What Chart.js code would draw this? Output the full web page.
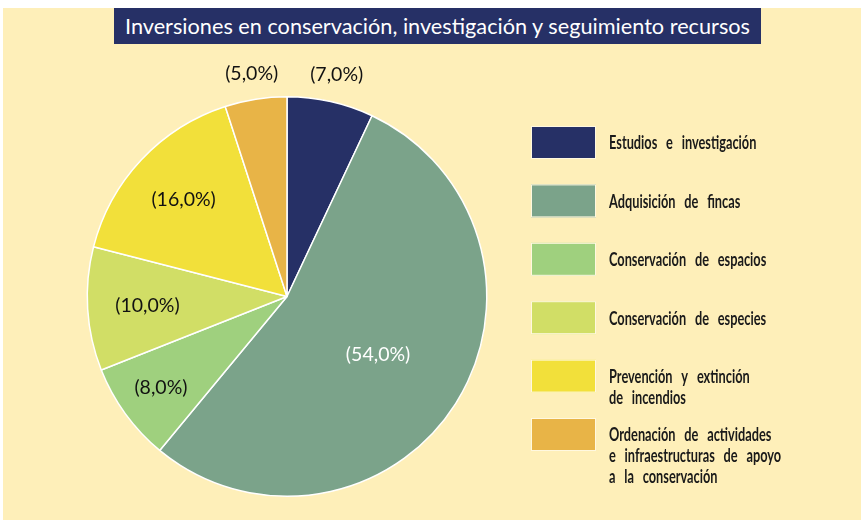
<!DOCTYPE html>
<html>
<head>
<meta charset="utf-8">
<script src="https://cdn.jsdelivr.net/npm/chart.js@4/dist/chart.umd.min.js"></script>
<style>
  html, body { margin: 0; padding: 0; background: #ffffff; }
  #wrap { position: absolute; left: 3px; top: 8px; width: 858px; height: 512px; background: #FEEFB9; }
  #title { position: absolute; left: 111px; top: 0px; width: 647px; height: 36px; background: #263066;
           color: #ffffff; font-family: Lato, "Open Sans", sans-serif; font-size: 21.7px; line-height: 36px;
           text-align: center; white-space: nowrap; }
  #cv { position: absolute; left: -3px; top: -8px; }
</style>
</head>
<body>
<div id="wrap">
  <canvas id="cv" width="861" height="520"></canvas>
  <div id="title">Inversiones en conservación, investigación y seguimiento recursos</div>
</div>
<script>
const categories = [
  ["Estudios e investigación"],
  ["Adquisición de fincas"],
  ["Conservación de espacios"],
  ["Conservación de especies"],
  ["Prevención y extinción", "de incendios"],
  ["Ordenación de actividades", "e infraestructuras de apoyo", "a la conservación"]
];
const values = [7, 54, 8, 10, 16, 5];
const valueLabels = ["(7,0%)", "(54,0%)", "(8,0%)", "(10,0%)", "(16,0%)", "(5,0%)"];
const colors = ["#263066", "#7BA38A", "#9FD07E", "#D1DE66", "#F2E03A", "#E8B447"];

// label styling (radius as fraction of outer radius)
const labelRadius = [1.14, 0.54, 0.78, 0.70, 0.71, 1.13];
const labelColor = ["#111111", "#ffffff", "#111111", "#111111", "#111111", "#111111"];

const sliceLabels = {
  id: 'sliceLabels',
  afterDatasetsDraw(chart) {
    const ctx = chart.ctx;
    const meta = chart.getDatasetMeta(0);
    ctx.save();
    ctx.font = '19.5px Lato, "Open Sans", sans-serif';
    ctx.textAlign = 'center';
    ctx.textBaseline = 'middle';
    meta.data.forEach((arc, i) => {
      const p = arc.getProps(['x', 'y', 'startAngle', 'endAngle', 'outerRadius'], true);
      const mid = (p.startAngle + p.endAngle) / 2;
      const r = p.outerRadius * labelRadius[i];
      ctx.fillStyle = labelColor[i];
      ctx.fillText(valueLabels[i], p.x + Math.cos(mid) * r, p.y + Math.sin(mid) * r);
    });
    ctx.restore();
  }
};

const sideLegend = {
  id: 'sideLegend',
  afterDraw(chart) {
    const ctx = chart.ctx;
    const boxX = 531, boxW = 65, boxH = 33, top0 = 126, step = 58.4;
    const sx = 0.71;
    ctx.save();
    ctx.font = 'bold 18px Lato, "Open Sans", sans-serif';
    try { ctx.wordSpacing = '8px'; } catch (e) {}
    ctx.textBaseline = 'middle';
    ctx.textAlign = 'left';
    chart.data.labels.forEach((lab, i) => {
      const y = top0 + i * step;
      ctx.fillStyle = chart.data.datasets[0].backgroundColor[i];
      ctx.fillRect(boxX, y, boxW, boxH);
      ctx.strokeStyle = '#FFF8E0';
      ctx.lineWidth = 1;
      ctx.strokeRect(boxX + 0.5, y + 0.5, boxW - 1, boxH - 1);
      ctx.fillStyle = '#1a1a1a';
      lab.forEach((line, j) => {
        ctx.save();
        ctx.translate(609, y + boxH / 2 + 1 + j * 21);
        ctx.scale(sx, 1);
        ctx.fillText(line, 0, 0);
        ctx.restore();
      });
    });
    ctx.restore();
  }
};

new Chart(document.getElementById('cv'), {
  type: 'pie',
  data: {
    labels: categories,
    datasets: [{
      data: values,
      backgroundColor: colors,
      borderColor: '#ffffff',
      borderWidth: 1.5
    }]
  },
  options: {
    responsive: false,
    animation: false,
    layout: { padding: { left: 86, right: 373, top: 96, bottom: 23 } },
    plugins: {
      legend: { display: false },
      tooltip: { enabled: false },
      title: { display: false }
    }
  },
  plugins: [sliceLabels, sideLegend]
});
</script>
</body>
</html>
